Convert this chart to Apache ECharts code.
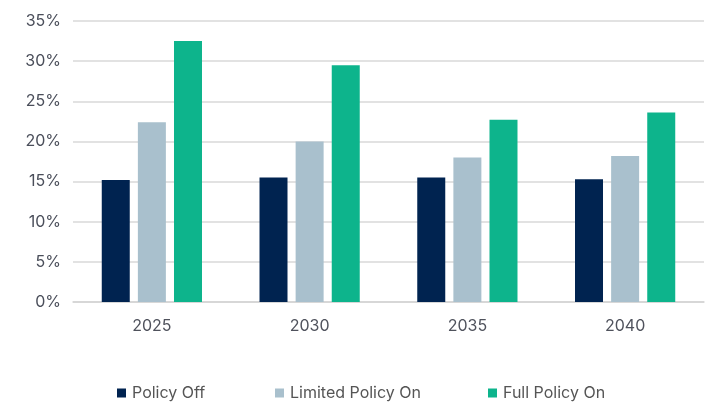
<!DOCTYPE html>
<html><head><meta charset="utf-8">
<script src="https://cdn.jsdelivr.net/npm/echarts@6/dist/echarts.min.js"></script>
<style>html,body{margin:0;padding:0;background:#fff}#c{width:715px;height:405px}</style>
</head><body><div id="c"></div>
<script>
const categories = ['2025', '2030', '2035', '2040'];
const policyOff = [15.2, 15.5, 15.5, 15.3];
const limitedPolicyOn = [22.4, 20.0, 18.0, 18.2];
const fullPolicyOn = [32.5, 29.5, 22.7, 23.6];
const seriesNames = ['Policy Off', 'Limited Policy On', 'Full Policy On'];
const colors = ['#002350', '#a9c0cd', '#0db48c'];

const chart = echarts.init(document.getElementById('c'));
const font = 'Inter, "Noto Sans", sans-serif';
const legendLefts = [112, 270, 483];
chart.setOption({
  animation: false,
  color: colors,
  grid: { left: 73, right: 11, top: 21, bottom: 103, containLabel: false },
  legend: seriesNames.map((n, i) => ({
    data: [n], left: legendLefts[i], top: 380, icon: 'rect', itemWidth: 9, itemHeight: 9,
    textStyle: { color: '#555555', fontSize: 16, fontFamily: font, padding: [0, 0, 0, 1] }
  })),
  xAxis: {
    type: 'category', data: categories,
    axisLine: { lineStyle: { color: '#d4d4d4', width: 1.5 } },
    axisTick: { show: false },
    axisLabel: { color: '#4f525c', fontSize: 16, fontFamily: font, margin: 16 }
  },
  yAxis: {
    type: 'value', min: 0, max: 35, interval: 5,
    axisLine: { show: false }, axisTick: { show: false },
    splitLine: { lineStyle: { color: '#d9d9d9', width: 1.5 } },
    axisLabel: { color: '#4a4e5a', fontSize: 16, fontFamily: font, margin: 12, formatter: v => v + '%' }
  },
  series: [policyOff, limitedPolicyOn, fullPolicyOn].map((d, i) => ({
    name: seriesNames[i], type: 'bar', data: d, barWidth: 28, barGap: '29%'
  }))
});
</script></body></html>
